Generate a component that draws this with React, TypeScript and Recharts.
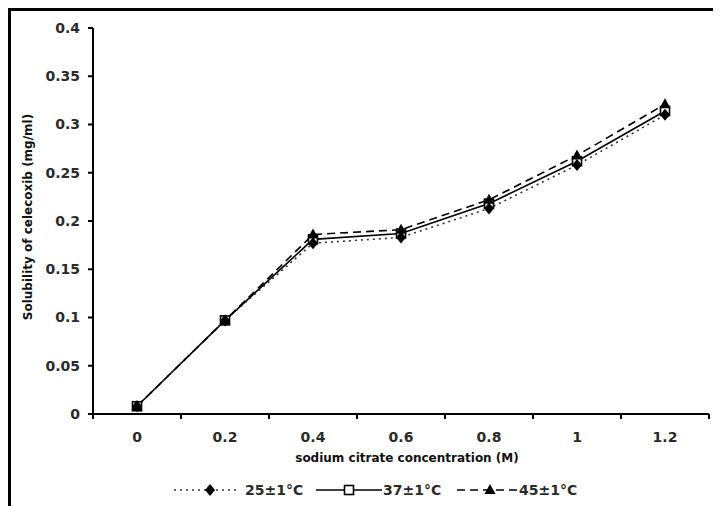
import React from 'react';
import { LineChart, Line, XAxis, YAxis } from 'recharts';

const concentrations = ['0', '0.2', '0.4', '0.6', '0.8', '1', '1.2'];
const sol25 = [0.008, 0.097, 0.177, 0.183, 0.213, 0.258, 0.31];
const sol37 = [0.008, 0.097, 0.181, 0.187, 0.218, 0.262, 0.314];
const sol45 = [0.008, 0.097, 0.186, 0.191, 0.222, 0.268, 0.321];
const yTicks = [0, 0.05, 0.1, 0.15, 0.2, 0.25, 0.3, 0.35, 0.4];
const seriesNames = ['25±1°C', '37±1°C', '45±1°C'];
const xTitle = 'sodium citrate concentration (M)';
const yTitle = 'Solubility of celecoxib (mg/ml)';

const data = concentrations.map((c, i) => ({ idx: i, label: c, s25: sol25[i], s37: sol37[i], s45: sol45[i] }));
const xTicks: number[] = [];
for (let i = 0; i <= concentrations.length; i++) {
  xTicks.push(i - 0.5);
  if (i < concentrations.length) xTicks.push(i);
}

const FONT = 'DejaVu Sans';
const TICK_COLOR = '#2a2a2a';
const X_TICK_MARGIN = 16;

const XTick = (props: any) => {
  const { x, y, payload } = props;
  const v = payload.value;
  const axisY = y - X_TICK_MARGIN;
  if (Number.isInteger(v)) {
    return (
      <text x={x} y={axisY + 23} textAnchor="middle" dominantBaseline="central" fontFamily={FONT} fontSize={14} fontWeight="bold" fill={TICK_COLOR}>
        {concentrations[v]}
      </text>
    );
  }
  return <line x1={x} x2={x} y1={axisY} y2={axisY + 5} stroke="#000" strokeWidth={2} />;
};

const Diamond = ({ cx, cy }: any) =>
  cx == null ? null : <polygon points={`${cx},${cy - 6} ${cx + 5},${cy} ${cx},${cy + 6} ${cx - 5},${cy}`} fill="#000" />;
const OpenSquare = ({ cx, cy }: any) =>
  cx == null ? null : <rect x={cx - 4.5} y={cy - 4.5} width={9} height={9} fill="#fff" stroke="#000" strokeWidth={1.6} />;
const Triangle = ({ cx, cy }: any) =>
  cx == null ? null : <polygon points={`${cx},${cy - 6} ${cx + 5.5},${cy + 4} ${cx - 5.5},${cy + 4}`} fill="#000" />;

const YTitle = ({ viewBox }: any) => {
  const cx = viewBox.x + 20;
  const cy = viewBox.y + viewBox.height / 2 - 4;
  return (
    <text x={cx} y={cy} transform={`rotate(-90 ${cx} ${cy})`} textAnchor="middle" dominantBaseline="central" fontFamily={FONT} fontSize={12} fontWeight="bold" fill="#111">
      {yTitle}
    </text>
  );
};

const XTitle = ({ viewBox }: any) => {
  const cx = viewBox.x + viewBox.width / 2 + 6;
  const cy = viewBox.y + 44;
  return (
    <text x={cx} y={cy} textAnchor="middle" dominantBaseline="central" fontFamily={FONT} fontSize={12} fontWeight="bold" fill="#111">
      {xTitle}
    </text>
  );
};

const LegendBox = () => {
  const cy = 12;
  const txt = { fontFamily: FONT, fontSize: 14, fontWeight: 'bold' as const, fill: TICK_COLOR, dominantBaseline: 'central' as const };
  return (
    <svg width={713} height={24} style={{ position: 'absolute', left: 0, top: 470 }}>
      <line x1={166} x2={231} y1={cy} y2={cy} stroke="#333" strokeWidth={1.6} strokeDasharray="2 4" />
      <Diamond cx={202} cy={cy} />
      <text x={237} y={cy} {...txt}>{seriesNames[0]}</text>
      <line x1={308} x2={374} y1={cy} y2={cy} stroke="#000" strokeWidth={1.6} />
      <OpenSquare cx={341} cy={cy} />
      <text x={375} y={cy} {...txt}>{seriesNames[1]}</text>
      <line x1={449} x2={509} y1={cy} y2={cy} stroke="#000" strokeWidth={1.6} strokeDasharray="8 5" />
      <Triangle cx={482} cy={cy} />
      <text x={511} y={cy} {...txt}>{seriesNames[2]}</text>
    </svg>
  );
};

export default function App() {
  return (
    <div style={{ position: 'relative', width: 713, height: 498, background: '#fff' }}>
      <LineChart width={713} height={498} data={data} margin={{ top: 20, right: 12, bottom: 32, left: 0 }}>
        <XAxis
          dataKey="idx"
          type="number"
          domain={[-0.5, concentrations.length - 0.5]}
          ticks={xTicks}
          interval={0}
          tickLine={false}
          tickSize={0}
          tickMargin={X_TICK_MARGIN}
          tick={<XTick />}
          axisLine={{ stroke: '#000', strokeWidth: 2 }}
          height={60}
          label={<XTitle />}
        />
        <YAxis
          type="number"
          domain={[0, 0.4]}
          ticks={yTicks}
          interval={0}
          width={85}
          tickSize={5}
          tickMargin={8}
          tickFormatter={(v: number) => String(v)}
          tick={{ fontFamily: FONT, fontSize: 14, fontWeight: 'bold', fill: TICK_COLOR }}
          tickLine={{ stroke: '#000', strokeWidth: 2 }}
          axisLine={{ stroke: '#000', strokeWidth: 2 }}
          label={<YTitle />}
        />
        <Line dataKey="s37" name={seriesNames[1]} stroke="#000" strokeWidth={1.6} dot={<OpenSquare />} isAnimationActive={false} />
        <Line dataKey="s25" name={seriesNames[0]} stroke="#333" strokeWidth={1.6} strokeDasharray="2 4" dot={<Diamond />} isAnimationActive={false} />
        <Line dataKey="s45" name={seriesNames[2]} stroke="#000" strokeWidth={1.6} strokeDasharray="8 5" dot={<Triangle />} isAnimationActive={false} />
      </LineChart>
      <div style={{ position: 'absolute', left: 0, top: 0, width: 713, height: 498, borderTop: '3px solid #000', borderLeft: '3px solid #000', boxSizing: 'border-box', pointerEvents: 'none' }} />
      <LegendBox />
    </div>
  );
}
